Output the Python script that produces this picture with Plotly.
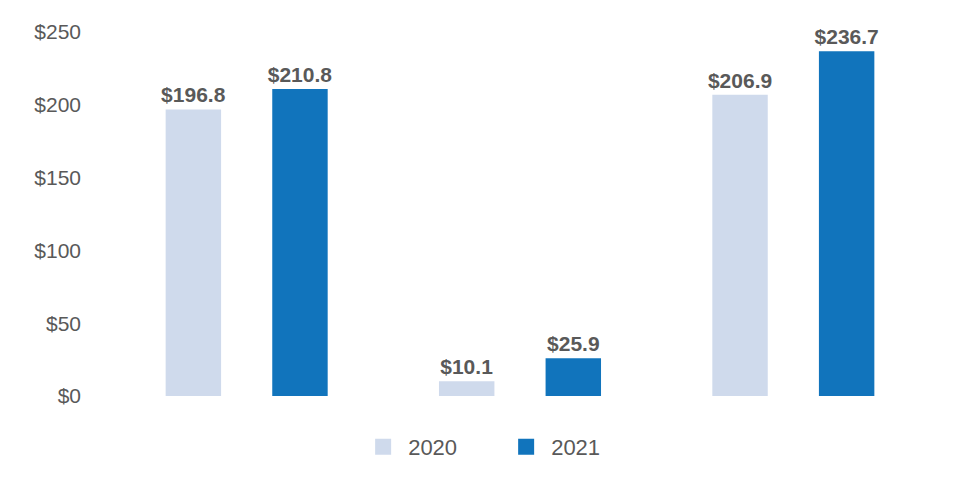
import plotly.graph_objects as go

categories = ["Group A", "Group B", "Group C"]
series_names = ["2020", "2021"]
values_2020 = [196.8, 10.1, 206.9]
values_2021 = [210.8, 25.9, 236.7]
y_ticks = [0, 50, 100, 150, 200, 250]
y_tick_labels = ["$0", "$50", "$100", "$150", "$200", "$250"]

colors = ["#CFDAEC", "#1174BC"]
FONT = "Liberation Sans, Arial, sans-serif"
GRAY = "#595959"

fig = go.Figure()
for name, vals, col in zip(series_names, [values_2020, values_2021], colors):
    fig.add_trace(go.Bar(
        x=categories, y=vals, name=name, marker_color=col,
        marker_line_width=0, legendgroup=name, showlegend=False,
        texttemplate="$%{y:.1f}", textposition="outside", constraintext="none",
        textfont=dict(family=FONT, size=21, color=GRAY, weight="bold"),
        cliponaxis=False,
    ))
# legend entries with larger square symbols
for name, col in zip(series_names, colors):
    fig.add_trace(go.Scatter(
        x=[None], y=[None], mode="markers", name=name, legendgroup=name,
        marker=dict(symbol="square", size=16, color=col), showlegend=True,
    ))

fig.update_layout(
    width=952, height=492,
    margin=dict(l=102, r=30, t=24, b=104),
    paper_bgcolor="white", plot_bgcolor="white",
    barmode="group", bargap=0.22, bargroupgap=0.48,
    font=dict(family=FONT, color=GRAY),
    showlegend=True,
    legend=dict(orientation="h", x=0.477, xanchor="center", y=-0.082, yanchor="top",
                font=dict(size=22, color=GRAY), itemwidth=40, entrywidth=88,
                traceorder="normal"),
    xaxis=dict(showticklabels=False, showgrid=False, zeroline=False, showline=False),
    yaxis=dict(range=[0, 250], tickvals=y_ticks, ticktext=y_tick_labels,
               showgrid=False, zeroline=False, showline=False,
               tickfont=dict(size=21, color=GRAY), ticklabelstandoff=28),
)

fig.write_html("out.html")
